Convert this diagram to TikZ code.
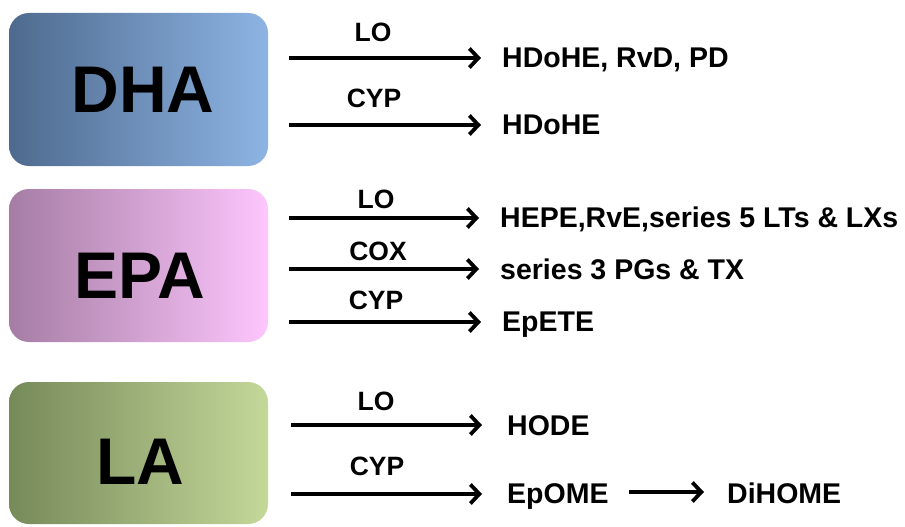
\documentclass[tikz,border=0pt]{standalone}
\usepackage{fontspec}
\setmainfont{Liberation Sans}
\usetikzlibrary{arrows.meta}

\definecolor{dhaL}{HTML}{4E6A8E}
\definecolor{dhaR}{HTML}{8DB4E4}
\definecolor{epaL}{HTML}{A57DA4}
\definecolor{epaR}{HTML}{FDC6FD}
\definecolor{laL}{HTML}{768959}
\definecolor{laR}{HTML}{C4D89A}

\begin{document}
\begin{tikzpicture}[x=1pt,y=-1pt]
      \tikzset{>={Straight Barb[length=9pt,width=19pt]}}
      \tikzset{acidbox/.style={rounded corners=20pt,minimum width=259pt,inner sep=0pt},
               acid/.style={font=\bfseries\fontsize{66}{66}\selectfont,anchor=base,inner sep=0pt},
               enz/.style={font=\bfseries\fontsize{26.5}{26.5}\selectfont,anchor=base,inner sep=0pt},
               prod/.style={font=\bfseries\fontsize{28.5}{28.5}\selectfont,anchor=base west,inner sep=0pt},
               flow/.style={->,line width=3.8pt,shorten >=21pt}}
      \useasboundingbox (0,0) rectangle (905,527);

      % fatty acids
      \node[acidbox,minimum height=153pt,left color=dhaL,right color=dhaR] (dha) at (138.5,89.5) {};
      \node[acidbox,minimum height=153pt,left color=epaL,right color=epaR] (epa) at (138.5,265.5) {};
      \node[acidbox,minimum height=142pt,left color=laL,right color=laR] (la) at (138.5,453) {};
      \node[acid] (dhaT) at (143,112) {DHA};
      \node[acid] (epaT) at (140,298) {EPA};
      \node[acid] (laT) at (140,484) {LA};

      % start points of the arrows
      \coordinate (s1) at (289,58);
      \coordinate (s2) at (289,125);
      \coordinate (s3) at (289,218);
      \coordinate (s4) at (289,269);
      \coordinate (s5) at (289,322);
      \coordinate (s6) at (291,425);
      \coordinate (s7) at (291,494);

      % products
      \node[prod] (p1) at (502,67) {HDoHE, RvD, PD};
      \node[prod] (p2) at (502,134) {HDoHE};
      \node[prod] (p3) at (500,227) {HEPE,RvE,series 5 LTs \& LXs};
      \node[prod] (p4) at (500,279) {series 3 PGs \& TX};
      \node[prod] (p5) at (502,331) {EpETE};
      \node[prod] (p6) at (507,435) {HODE};
      \node[prod] (p7) at (507,503) {EpOME};
      \node[prod] (p8) at (727,503) {DiHOME};

      % enzymes
      \node[enz] (lo1) at (373,42) {LO};
      \node[enz] (cyp1) at (374,107) {CYP};
      \node[enz] (lo2) at (376,208) {LO};
      \node[enz] (cox) at (378,260) {COX};
      \node[enz] (cyp2) at (376,309) {CYP};
      \node[enz] (lo3) at (376,410) {LO};
      \node[enz] (cyp3) at (377,475) {CYP};

      \draw [flow] (s1) -- (s1 -| p1.west);
      \draw [flow] (s2) -- (s2 -| p2.west);
      \draw [flow] (s3) -- (s3 -| p3.west);
      \draw [flow] (s4) -- (s4 -| p4.west);
      \draw [flow] (s5) -- (s5 -| p5.west);
      \draw [flow,shorten >=25pt] (s6) -- (s6 -| p6.west);
      \draw [flow,shorten >=25pt] (s7) -- (s7 -| p7.west);
      \draw [flow,shorten <=20pt,shorten >=23pt] (p7.east |- 0,492) -- (p8.west |- 0,492);
    \end{tikzpicture}
\end{document}
